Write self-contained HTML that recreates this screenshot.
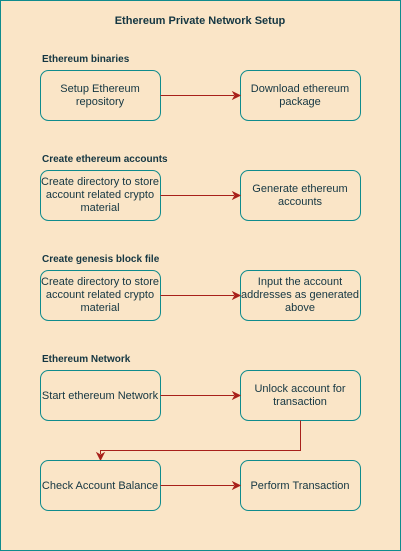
<!DOCTYPE html>
<html><head><meta charset="utf-8"><style>
html,body{margin:0;padding:0;background:#FAE5C7;}
svg{display:block;}
text{font-family:"Liberation Sans",Helvetica,Arial,sans-serif;fill:#143642;}
.b{fill:#FAE5C7;stroke:#0F8B8D;stroke-width:1;}
.t{font-size:11px;text-anchor:middle;}
.h{font-size:10px;font-weight:bold;}
.a{stroke:#A8201A;stroke-width:1;fill:none;}
.ah{fill:#A8201A;stroke:#A8201A;}
</style></head><body>
<svg width="401" height="551" viewBox="0 0 401 551" xmlns="http://www.w3.org/2000/svg">
<rect x="0.5" y="0.5" width="400" height="550" fill="#FAE5C7" stroke="#0F8B8D" stroke-width="1"/>
<text x="200" y="24" class="h" text-anchor="middle" style="font-size:11px">Ethereum Private Network Setup</text>

<text x="42" y="62" class="h">Ethereum binaries</text>
<rect class="b" x="40.5" y="70.5" width="120" height="50" rx="8"/>
<text class="t" x="100" y="92">Setup Ethereum</text><text class="t" x="100" y="105">repository</text>
<rect class="b" x="240.5" y="70.5" width="120" height="50" rx="8"/>
<text class="t" x="300" y="92">Download ethereum</text><text class="t" x="300" y="105">package</text>
<path class="a" d="M160.5 95.5H234"/><path class="ah" d="M240 95.5l-7 -3.5 2 3.5 -2 3.5z"/>

<text x="42" y="162" class="h">Create ethereum accounts</text>
<rect class="b" x="40.5" y="170.5" width="120" height="50" rx="8"/>
<text class="t" x="100" y="185">Create directory to store</text><text class="t" x="100" y="198">account related crypto</text><text class="t" x="100" y="211">material</text>
<rect class="b" x="240.5" y="170.5" width="120" height="50" rx="8"/>
<text class="t" x="300" y="192">Generate ethereum</text><text class="t" x="300" y="205">accounts</text>
<path class="a" d="M160.5 195.5H234"/><path class="ah" d="M240 195.5l-7 -3.5 2 3.5 -2 3.5z"/>

<text x="42" y="262" class="h">Create genesis block file</text>
<rect class="b" x="40.5" y="270.5" width="120" height="50" rx="8"/>
<text class="t" x="100" y="285">Create directory to store</text><text class="t" x="100" y="298">account related crypto</text><text class="t" x="100" y="311">material</text>
<rect class="b" x="240.5" y="270.5" width="120" height="50" rx="8"/>
<text class="t" x="300" y="285">Input the account</text><text class="t" x="300" y="298">addresses as generated</text><text class="t" x="300" y="311">above</text>
<path class="a" d="M160.5 295.5H234"/><path class="ah" d="M240 295.5l-7 -3.5 2 3.5 -2 3.5z"/>

<text x="42" y="362" class="h">Ethereum Network</text>
<rect class="b" x="40.5" y="370.5" width="120" height="50" rx="8"/>
<text class="t" x="100" y="399">Start ethereum Network</text>
<rect class="b" x="240.5" y="370.5" width="120" height="50" rx="8"/>
<text class="t" x="300" y="392">Unlock account for</text><text class="t" x="300" y="405">transaction</text>
<path class="a" d="M160.5 395.5H234"/><path class="ah" d="M240 395.5l-7 -3.5 2 3.5 -2 3.5z"/>

<path class="a" d="M300.5 420.5V450.5H100.5V454"/><path class="ah" d="M100.5 460l-3.5 -7 3.5 2 3.5 -2z"/>

<rect class="b" x="40.5" y="460.5" width="120" height="50" rx="8"/>
<text class="t" x="100" y="489">Check Account Balance</text>
<rect class="b" x="240.5" y="460.5" width="120" height="50" rx="8"/>
<text class="t" x="300" y="489">Perform Transaction</text>
<path class="a" d="M160.5 485.5H234"/><path class="ah" d="M240 485.5l-7 -3.5 2 3.5 -2 3.5z"/>
</svg>
</body></html>
